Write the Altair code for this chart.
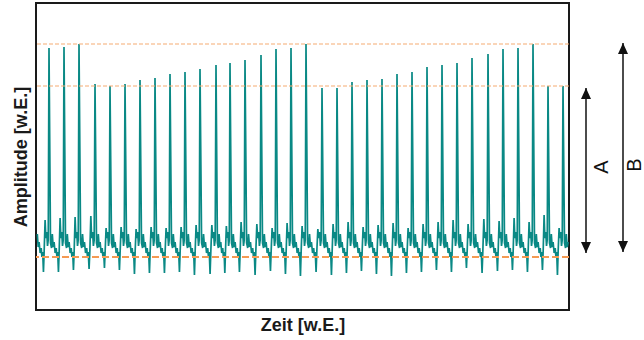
import altair as alt
import pandas as pd

# ---- values (arbitrary units, w.E.) ----
# time of each spike
SPIKE_T = [13, 28, 43, 59, 74, 89, 104, 119, 134, 149, 164, 180, 194, 209, 225,
           240, 255, 270, 286, 301, 316, 331, 346, 361, 376, 391, 406, 421, 436,
           452, 467, 482, 497, 512, 527]
# peak amplitude of each spike
PEAK = [262, 263, 266, 226, 224, 226, 230, 232, 236, 238, 241, 245, 247, 250, 255,
        261, 262, 266, 222, 222, 228, 230, 231, 236, 238, 243, 245, 247, 252,
        256, 261, 262, 266, 224, 224]
# deepest dip before each spike
DIP = [38, 38, 40, 41, 42, 40, 36, 37, 37, 38, 35, 36,
       37, 38, 35, 39, 36, 34, 38, 35, 37, 39, 36, 34, 37, 38,
       40, 38, 42, 37, 39, 40, 38, 40, 35]
# small wave right before each spike
BUMP = [90, 92, 93, 94, 82, 83, 81, 83, 82, 83, 85, 85,
        84, 88, 86, 82, 87, 84, 81, 86, 88, 83, 85, 87, 82, 86,
        88, 90, 86, 91, 89, 92, 88, 95, 82]
# shape of the trace between two spikes (phase within the beat, amplitude)
WAVE_PHASE = [0.10, 0.17, 0.22, 0.28, 0.34, 0.41, 0.48, 0.53, 0.58, 0.63,
              0.68, 0.74, 0.79, 0.85, 0.90, 0.95]
WAVE_AMP = [67, 62, 76, 63, 68, 57, 62, 53, 58, "dip", 60, "bump", 72, 78, 64, 70]

# reference levels (dashed orange lines)
UPPER_LEVELS = [266, 224]
BASE_LEVEL = [53]

# arrows on the right: label, top, bottom
ARROW_LABEL = ["A", "B"]
ARROW_TOP = [222, 267]
ARROW_BOTTOM = [57, 58]
ARROW_LABEL_Y = [143, 145]

# ---- build tables ----
def wave_value(a, k):
    if a == "dip":
        return DIP[k]
    if a == "bump":
        return BUMP[k]
    return a

rows = []
prev = SPIKE_T[0] - (SPIKE_T[1] - SPIKE_T[0])
for k, t1 in enumerate(SPIKE_T):
    for ph, a in zip(WAVE_PHASE, WAVE_AMP):
        t = prev + ph * (t1 - prev)
        if t < 1:
            continue
        rows.append((t, wave_value(a, k)))
    rows.append((t1, PEAK[k]))
    prev = t1
last_step = SPIKE_T[-1] - SPIKE_T[-2]
for ph, a in zip(WAVE_PHASE, WAVE_AMP):
    t = SPIKE_T[-1] + ph * last_step
    if t > 532.5 or isinstance(a, str):
        break
    rows.append((t, a))

signal = pd.DataFrame(rows, columns=["t", "amp"])
upper = pd.DataFrame({"amp": UPPER_LEVELS})
base = pd.DataFrame({"amp": BASE_LEVEL})
arrows = pd.DataFrame({"lab": ARROW_LABEL, "amp": ARROW_TOP, "amp2": ARROW_BOTTOM,
                       "ly": ARROW_LABEL_Y})

FONT = "Liberation Sans"
xs = alt.Scale(domain=[0, 533], nice=False, zero=False)
ys = alt.Scale(domain=[0, 307], nice=False, zero=False)

ax_common = dict(labels=False, ticks=False, domain=False, grid=False,
                 titleFont=FONT, titleFontSize=18, titleFontWeight="bold",
                 titleColor="#1a1a1a", titlePadding=6)
XAXIS = alt.Axis(title="Zeit [w.E.]", **ax_common)
YAXIS = alt.Axis(title="Amplitude [w.E.]", **ax_common)


def Y(field):
    return alt.Y(field, scale=ys, axis=YAXIS, title="Amplitude [w.E.]")


line = alt.Chart(signal).mark_line(color="#0a8985", strokeWidth=1.7, clip=True).encode(
    x=alt.X("t:Q", scale=xs, axis=XAXIS),
    y=Y("amp:Q"),
    order="t:Q",
)

upper_rules = alt.Chart(upper).mark_rule(
    color="#f6ab72", strokeWidth=1.2, strokeDash=[4, 2]
).encode(y=Y("amp:Q"))

base_rule = alt.Chart(base).mark_rule(
    color="#f59a52", strokeWidth=2, strokeDash=[7, 3]
).encode(y=Y("amp:Q"))

ARROW_X = {"A": 550, "B": 587}
LABEL_X = {"A": 566, "B": 599}

layers = [line, upper_rules, base_rule]
for lab in ARROW_LABEL:
    d = arrows[arrows["lab"] == lab]
    shaft = alt.Chart(d).mark_rule(color="#111111", strokeWidth=1.5).encode(
        x=alt.value(ARROW_X[lab]),
        y=Y("amp:Q"),
        y2="amp2:Q",
    )
    head_up = alt.Chart(d).mark_point(
        shape="M0,0 L-1,2.2 L1,2.2 Z", filled=True, size=100, opacity=1,
        color="#111111", strokeWidth=0
    ).encode(x=alt.value(ARROW_X[lab]), y=Y("amp:Q"))
    head_down = alt.Chart(d).mark_point(
        shape="M0,0 L-1,-2.2 L1,-2.2 Z", filled=True, size=100, opacity=1,
        color="#111111", strokeWidth=0
    ).encode(x=alt.value(ARROW_X[lab]), y=Y("amp2:Q"))
    label = alt.Chart(d).mark_text(
        angle=270, fontSize=20, font=FONT, color="#111111",
        align="center", baseline="middle"
    ).encode(x=alt.value(LABEL_X[lab]), y=Y("ly:Q"), text="lab:N")
    layers += [shaft, head_up, head_down, label]

chart = alt.layer(*layers).properties(
    width=533, height=307,
    padding={"left": 36, "top": 3, "right": 75, "bottom": 30},
    autosize=alt.AutoSizeParams(type="none"),
    background="white",
).configure_view(stroke="#1a1a1a", strokeWidth=2)

chart.save("out.html", embed_options={"renderer": "svg", "actions": False})
